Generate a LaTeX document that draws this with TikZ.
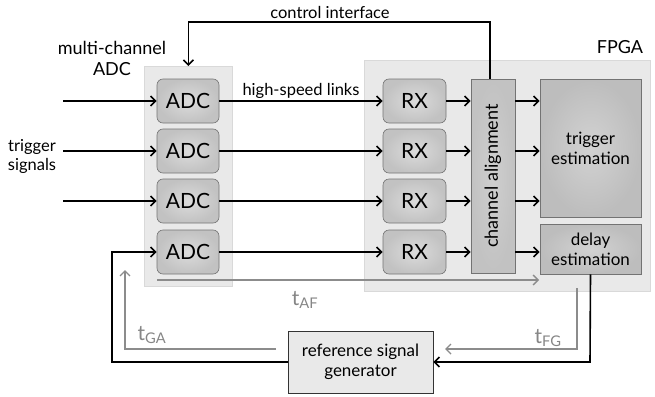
\documentclass[tikz,border=0pt]{standalone}
\usepackage{fontspec}
\setmainfont{Lato}
\usetikzlibrary{arrows.meta}
\begin{document}
\begin{tikzpicture}[x=1pt,y=-1pt,
  grp/.style={fill=gray!17, draw=gray!30, line width=0.8pt},
  rbox/.style={rounded corners=6pt, draw=gray!90!black, line width=0.6pt, inner color=gray!28, outer color=gray!48, minimum width=62pt, minimum height=44pt, font=\fontsize{21}{22}\selectfont},
  sbox/.style={draw=gray!90!black, line width=0.6pt, inner color=gray!35, outer color=gray!52, font=\fontsize{17}{20}\selectfont, align=center},
  lbl/.style={font=\fontsize{16.5}{19}\selectfont, align=center},
  big/.style={font=\fontsize{18}{21}\selectfont, align=center},
  ln/.style={line width=1.6pt, black},
  arr/.style={ln, -{Straight Barb[length=5pt,width=10pt,line width=1.6pt]}},
  gln/.style={line width=1.4pt, gray!90},
  garr/.style={gln, -{Straight Barb[length=5pt,width=10pt,line width=1.4pt]}},
  tl/.style={text=gray!95, font=\fontsize{21}{22}\selectfont}
]
\useasboundingbox (0,0) rectangle (655,396);
% groups
\node[grp, minimum width=88pt, minimum height=220pt, anchor=north west, inner sep=0pt] (adcgrp) at (144,66) {};
\node[grp, minimum width=286pt, minimum height=231pt, anchor=north west, inner sep=0pt] (fpga) at (364,60) {};
% labels
\node[big] (mcl) at (112,58) {multi-channel\\ADC};
\node[big] (fpgal) at (620,47) {FPGA};
\node[lbl] (ctl) at (330,12) {control interface};
\node[lbl] (hsl) at (301,91) {high-speed links};
\node[lbl] (trl) at (32,156) {trigger\\signals};
% ADC and RX
\foreach \i/\y in {1/101,2/151,3/201,4/252}{
  \node[rbox] (adc\i) at (188,\y) {ADC};
  \node[rbox, minimum width=63pt] (rx\i) at (414.5,\y) {RX};
  \draw[arr] (adc\i.east) -- (rx\i.west) ;
}
% channel alignment
\node[sbox, minimum width=44pt, minimum height=194pt, inner color=gray!38, outer color=gray!48] (chan) at (493,176) {};
\node[font=\fontsize{18}{20}\selectfont, rotate=90] (chanl) at (chan.center) {channel alignment};
\node[sbox, minimum width=101pt, minimum height=138pt] (trig) at (590.5,148) {trigger\\estimation};
\node[sbox, minimum width=101pt, minimum height=50pt] (delay) at (590.5,249) {delay\\estimation};
\node[sbox, minimum width=145pt, minimum height=62pt, draw=gray!40!black, inner color=gray!17, outer color=gray!17] (gen) at (360.5,362) {reference signal\\generator};
% arrows RX -> chan -> est
\foreach \i in {1,2,3,4}{
  \draw[arr] (rx\i.east) -- (chan.west |- rx\i.east);
}
\foreach \i in {1,2,3}{
  \draw[arr] (chan.east |- rx\i.east) -- (trig.west |- rx\i.east);
}
\draw[arr] (chan.east |- rx4.east) -- (delay.west |- rx4.east);
% inputs
\coordinate (in1) at (63,101);
\coordinate (in2) at (63,151);
\coordinate (in3) at (63,201);
\foreach \i in {1,2,3}{ \draw[arr] (in\i) -- (adc\i.west); }
% control interface
\coordinate (ctop) at (490,22);
\draw[arr] (chan.north -| ctop) -- (ctop) -| (adcgrp.north);
% feedback black loop
\coordinate (fbl) at (112,362);
\draw[arr] (gen.west) -- (fbl) |- (adc4.west);
\coordinate (dtop) at (590,362);
\draw[arr] (delay.south) -- (dtop) -- (gen.east);
% gray timing paths
\coordinate (af0) at (157,280);
\coordinate (af1) at (539,280);
\draw[garr] (af0) -- (af1);
\node[tl] (taf) at (305,300) {t\textsubscript{AF}};
\coordinate (ga0) at (276,349);
\coordinate (ga1) at (125,349);
\coordinate (ga2) at (125,270);
\draw[garr] (ga0) -- (ga1) -- (ga2);
\node[tl] (tga) at (152,335) {t\textsubscript{GA}};
\coordinate (fg0) at (577,288);
\coordinate (fg1) at (577,349);
\coordinate (fg2) at (445,349);
\draw[garr] (fg0) -- (fg1) -- (fg2);
\node[tl] (tfg) at (548,338) {t\textsubscript{FG}};
\end{tikzpicture}
\end{document}
